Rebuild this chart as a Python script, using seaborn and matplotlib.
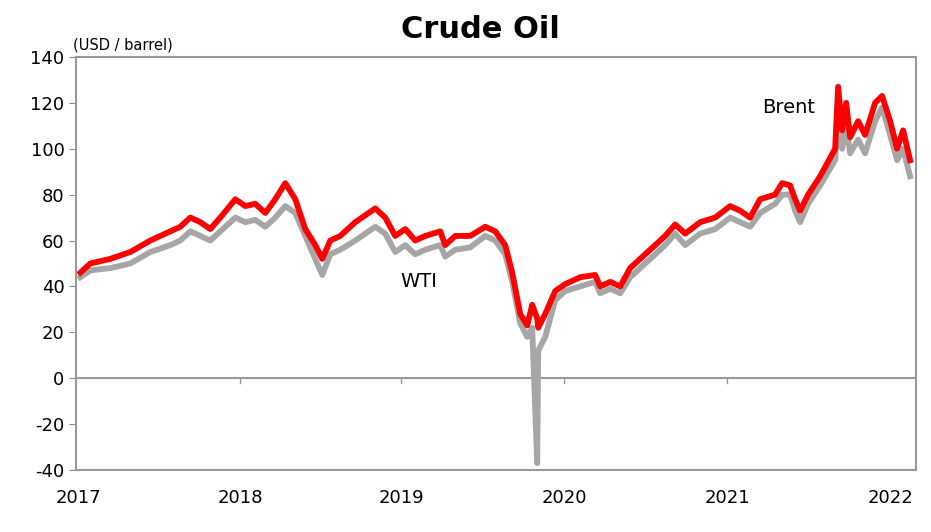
import matplotlib
matplotlib.use("Agg")
import matplotlib.pyplot as plt
import seaborn as sns
import pandas as pd
import numpy as np

plt.rcParams["axes.unicode_minus"] = False

# x positions (pixels along the reference axis)
px = [80,90,110,130,150,170,180,190,200,210,220,235,245,255,265,275,285,295,305,315,322,330,340,355,375,385,395,405,415,425,440,445,455,470,485,495,505,512,520,527,532,537,538,545,555,565,580,595,600,610,620,630,650,665,675,685,700,715,730,740,750,760,775,782,790,795,800,808,820,835,838,842,846,850,858,865,875,882,890,897,903,910]
brent = [46,50,52,55,60,64,66,70,68,65,70,78,75,76,72,78,85,78,65,58,52,60,62,68,74,70,62,65,60,62,64,58,62,62,66,64,58,46,28,23,32,26,22,28,38,41,44,45,40,42,40,48,56,62,67,63,68,70,75,73,70,78,80,85,84,78,73,80,88,100,127,108,120,105,112,106,120,123,112,100,108,95]
wti = [44,47,48,50,55,58,60,64,62,60,64,70,68,69,66,70,75,72,62,52,45,54,56,60,66,63,55,58,54,56,58,53,56,57,62,60,54,42,24,18,22,-37,12,18,34,38,40,42,37,39,37,44,52,58,63,58,63,65,70,68,66,72,76,80,80,73,68,76,84,95,112,100,110,98,104,98,112,118,106,95,100,88]
years = ["2017","2018","2019","2020","2021","2022"]
year_px = [78,240,401,564,727,890]

def tox(p):
    return (p - 78) / 162.4

df = pd.DataFrame({"x": [tox(p) for p in px] * 2,
                   "price": brent + wti,
                   "series": ["Brent"] * len(px) + ["WTI"] * len(px)})

fig = plt.figure(figsize=(9.31, 5.32), dpi=100)
ax = fig.add_axes([0.082, 0.1165, 0.902, 0.7765])
sns.lineplot(data=df[df.series == "WTI"], x="x", y="price", color="#a6a6a6", lw=4.2, ax=ax)
sns.lineplot(data=df[df.series == "Brent"], x="x", y="price", color="#ff0000", lw=4.2, ax=ax)

ax.set_xlim(tox(76), tox(916))
ax.set_ylim(-40, 140)
ax.set_yticks(range(-40, 141, 20))
ax.set_xticks([tox(p) for p in year_px])
ax.set_xticklabels(years)
ax.tick_params(axis="x", length=0, pad=14, labelsize=13)
ax.tick_params(axis="y", length=5, color="#888888", labelsize=13, direction="out")
ax.axhline(0, color="#999999", lw=1.5, zorder=0)
for t in year_px[1:-1]:
    ax.plot([tox(t)] * 2, [0, -2], color="#999999", lw=1)
for s in ax.spines.values():
    s.set_color("#999999")
    s.set_linewidth(1.5)
ax.set_xlabel("")
ax.set_ylabel("")
ax.text(tox(762), 118, "Brent", fontsize=14, va="center")
ax.text(tox(400), 42, "WTI", fontsize=14, va="center")
fig.text(0.078, 0.915, "(USD / barrel)", fontsize=10.5, va="center")
fig.text(0.516, 0.945, "Crude Oil", fontsize=22, fontweight="bold", ha="center", va="center")
fig.savefig("out.png", dpi=100, facecolor="white")
